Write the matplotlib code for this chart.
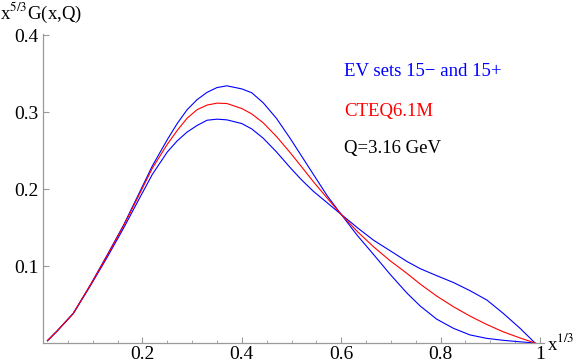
import numpy as np
import matplotlib
matplotlib.use("Agg")
import matplotlib.pyplot as plt
from matplotlib.ticker import MultipleLocator, FixedLocator, FixedFormatter

# x^{1/3} grid
x_vals = [0.009, 0.029, 0.061, 0.095, 0.128, 0.162, 0.19, 0.22, 0.25, 0.27,
          0.29, 0.31, 0.33, 0.35, 0.37, 0.40, 0.42, 0.443, 0.47, 0.497,
          0.52, 0.544, 0.572, 0.60, 0.632, 0.665, 0.698, 0.732, 0.759, 0.792,
          0.826, 0.859, 0.893, 0.926, 0.96, 0.99]

# EV set with the higher peak (falls faster at large x)
ev_hi = [0.003, 0.016, 0.0385, 0.075, 0.113, 0.153, 0.190, 0.230, 0.264, 0.285,
         0.303, 0.316, 0.3255, 0.3317, 0.334, 0.330, 0.325, 0.312, 0.2915, 0.266,
         0.243, 0.219, 0.191, 0.167, 0.140, 0.115, 0.0895, 0.065, 0.048, 0.031,
         0.019, 0.0105, 0.006, 0.0035, 0.0015, 0.0]

# CTEQ6.1M central
cteq = [0.003, 0.016, 0.0385, 0.075, 0.112, 0.152, 0.188, 0.227, 0.258, 0.276,
        0.292, 0.303, 0.309, 0.3115, 0.311, 0.3045, 0.2975, 0.286, 0.268, 0.2475,
        0.229, 0.2095, 0.188, 0.167, 0.145, 0.125, 0.107, 0.0905, 0.0765, 0.061,
        0.047, 0.035, 0.024, 0.0145, 0.0065, 0.0]

# EV set with the lower peak (higher tail)
ev_lo = [0.003, 0.016, 0.0385, 0.074, 0.110, 0.149, 0.183, 0.219, 0.248, 0.2625,
         0.274, 0.2825, 0.2893, 0.2907, 0.2898, 0.285, 0.278, 0.266, 0.248, 0.228,
         0.212, 0.197, 0.182, 0.167, 0.150, 0.1335, 0.120, 0.106, 0.0965, 0.0875,
         0.0785, 0.068, 0.0558, 0.0385, 0.019, 0.0]

plt.rcParams['font.family'] = ['Liberation Serif', 'DejaVu Serif']
plt.rcParams['mathtext.fontset'] = 'stix'

fig = plt.figure(figsize=(5.82, 3.64), dpi=100)
ax = fig.add_axes([43 / 582, 21 / 364, 501 / 582, 309 / 364])

ax.plot(x_vals, ev_hi, color='#0000ff', lw=0.8)
ax.plot(x_vals, ev_lo, color='#0000ff', lw=0.8)
ax.plot(x_vals, cteq, color='#ff0000', lw=0.8)

ax.set_xlim(0, 1.008)
ax.set_ylim(0, 0.4013)

for s in ['top', 'right']:
    ax.spines[s].set_visible(False)
for s in ['left', 'bottom']:
    ax.spines[s].set_color('#999999')
    ax.spines[s].set_linewidth(0.9)

ax.xaxis.set_major_locator(FixedLocator([0.2, 0.4, 0.6, 0.8, 1.0]))
ax.xaxis.set_major_formatter(FixedFormatter(['0.2', '0.4', '0.6', '0.8', '1']))
ax.xaxis.set_minor_locator(MultipleLocator(0.05))
ax.yaxis.set_major_locator(FixedLocator([0.1, 0.2, 0.3, 0.4]))
ax.yaxis.set_major_formatter(FixedFormatter(['0.1', '0.2', '0.3', '0.4']))
ax.tick_params(which='both', direction='in', color='#999999', labelsize=14)
ax.tick_params(axis='x', which='major', length=4, width=0.8, pad=2.5)
ax.tick_params(axis='y', which='major', length=4, width=0.8, pad=3)
ax.tick_params(which='minor', length=2.5, width=0.6)

ax.text(0.6056, 0.352, 'EV sets 15\u2212 and 15+', color='#0000ff', fontsize=13.5, va='center')
ax.text(0.6056, 0.301, 'CTEQ6.1M', color='#ff0000', fontsize=13.5, va='center')
ax.text(0.6056, 0.253, 'Q=3.16 GeV', color='black', fontsize=13.5, va='center')

fig.text(0 / 582, 1 - 13 / 364, r'x$^{5/3}$G(x,Q)', fontsize=13.5, va='center', ha='left')
fig.text(547 / 582, 1 - 343 / 364, r'x$^{1/3}$', fontsize=13.5, va='center', ha='left')

fig.savefig('out.png', dpi=100)
